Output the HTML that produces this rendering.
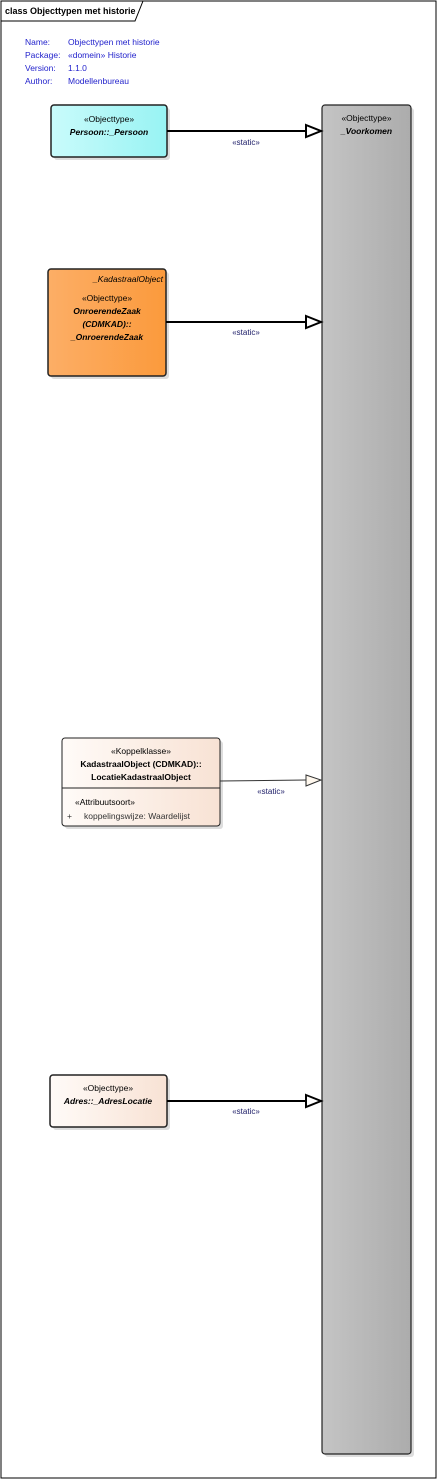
<!DOCTYPE html>
<html><head><meta charset="utf-8"><style>
html,body{margin:0;padding:0;background:#fff;}
svg{display:block;font-family:"Liberation Sans",sans-serif;}
</style></head><body>
<svg width="437" height="1480" viewBox="0 0 437 1480" xmlns="http://www.w3.org/2000/svg">
<defs>
<linearGradient id="cy" x1="0" x2="1"><stop offset="0" stop-color="#c9fbfb"/><stop offset="1" stop-color="#98f3f3"/></linearGradient>
<linearGradient id="or" x1="0" x2="1"><stop offset="0" stop-color="#fcae66"/><stop offset="1" stop-color="#fb9a3c"/></linearGradient>
<linearGradient id="pe" x1="0" x2="1"><stop offset="0" stop-color="#fffbf8"/><stop offset="1" stop-color="#f8e2d4"/></linearGradient>
<linearGradient id="gr" x1="0" x2="1"><stop offset="0" stop-color="#c4c4c4"/><stop offset="1" stop-color="#acacac"/></linearGradient>
</defs>
<rect x="1" y="1" width="435" height="1477" fill="#fff" stroke="#000" stroke-width="1"/>
<path d="M1 21 H135 L143 1" fill="none" stroke="#000" stroke-width="1"/>
<text x="5" y="14" font-size="9" font-weight="bold" fill="#000">class Objecttypen met historie</text>
<g font-size="8.5" fill="#2222cc">
<text x="25" y="45">Name:</text><text x="68" y="45">Objecttypen met historie</text>
<text x="25" y="58">Package:</text><text x="68" y="58">«domein» Historie</text>
<text x="25" y="71">Version:</text><text x="68" y="71">1.1.0</text>
<text x="25" y="84">Author:</text><text x="68" y="84">Modellenbureau</text>
</g>
<!-- shadows -->
<g fill="#ddd">
<rect x="325" y="108" width="89" height="1349" rx="3"/>
<rect x="54" y="108" width="116" height="52" rx="3"/>
<rect x="51" y="272" width="118" height="107" rx="3"/>
<rect x="65" y="741" width="158" height="88" rx="3"/>
<rect x="53" y="1078" width="117" height="52" rx="3"/>
</g>
<!-- Voorkomen -->
<rect x="322" y="105" width="89" height="1349" rx="3" fill="url(#gr)" stroke="#222" stroke-width="1.2"/>
<text x="366.5" y="121" font-size="8.5" text-anchor="middle">«Objecttype»</text>
<text x="366.5" y="134" font-size="8.5" font-weight="bold" font-style="italic" text-anchor="middle">_Voorkomen</text>
<!-- Persoon -->
<rect x="51" y="105" width="116" height="52" rx="3" fill="url(#cy)" stroke="#222" stroke-width="1.5"/>
<text x="109" y="122" font-size="8.5" text-anchor="middle">«Objecttype»</text>
<text x="109" y="135" font-size="8.5" font-weight="bold" font-style="italic" text-anchor="middle">Persoon::_Persoon</text>
<!-- Onroerende -->
<rect x="48" y="269" width="118" height="107" rx="3" fill="url(#or)" stroke="#222" stroke-width="1.5"/>
<text x="163" y="282" font-size="8.5" font-style="italic" text-anchor="end">_KadastraalObject</text>
<text x="107" y="301" font-size="8.5" text-anchor="middle">«Objecttype»</text>
<text x="107" y="314" font-size="8.5" font-weight="bold" font-style="italic" text-anchor="middle">OnroerendeZaak</text>
<text x="107" y="327" font-size="8.5" font-weight="bold" font-style="italic" text-anchor="middle">(CDMKAD)::</text>
<text x="107" y="340" font-size="8.5" font-weight="bold" font-style="italic" text-anchor="middle">_OnroerendeZaak</text>
<!-- Koppelklasse -->
<rect x="62" y="738" width="158" height="88" rx="3" fill="url(#pe)" stroke="#222" stroke-width="1"/>
<line x1="62" y1="788" x2="220" y2="788" stroke="#222" stroke-width="1"/>
<text x="141" y="754" font-size="8.5" text-anchor="middle">«Koppelklasse»</text>
<text x="141" y="767" font-size="8.5" font-weight="bold" text-anchor="middle">KadastraalObject (CDMKAD)::</text>
<text x="141" y="780" font-size="8.5" font-weight="bold" text-anchor="middle">LocatieKadastraalObject</text>
<text x="75" y="805" font-size="8.5">«Attribuutsoort»</text>
<text x="67" y="819" font-size="8.5" fill="#333">+</text>
<text x="84" y="819" font-size="8.5" fill="#333">koppelingswijze: Waardelijst</text>
<!-- Adres -->
<rect x="50" y="1075" width="117" height="52" rx="3" fill="url(#pe)" stroke="#222" stroke-width="1.5"/>
<text x="108" y="1091" font-size="8.5" text-anchor="middle">«Objecttype»</text>
<text x="108" y="1104" font-size="8.5" font-weight="bold" font-style="italic" text-anchor="middle">Adres::_AdresLocatie</text>
<!-- connectors -->
<g stroke="#000" stroke-width="2" fill="#fff">
<line x1="167" y1="131" x2="306" y2="131"/>
<path d="M306 125 L321 131 L306 137 Z"/>
<line x1="166" y1="322" x2="306" y2="322"/>
<path d="M306 316 L321 322 L306 328 Z"/>
<line x1="167" y1="1101" x2="306" y2="1101"/>
<path d="M306 1095 L321 1101 L306 1107 Z"/>
</g>
<line x1="220" y1="781" x2="306" y2="780" stroke="#333" stroke-width="1"/>
<path d="M306 775 L321 780 L306 786 Z" fill="#fff8ee" stroke="#333" stroke-width="1"/>
<g font-size="8" fill="#1a1a66" text-anchor="middle">
<text x="246" y="145">«static»</text>
<text x="246" y="335">«static»</text>
<text x="271" y="794">«static»</text>
<text x="246" y="1114">«static»</text>
</g>
</svg>
</body></html>
